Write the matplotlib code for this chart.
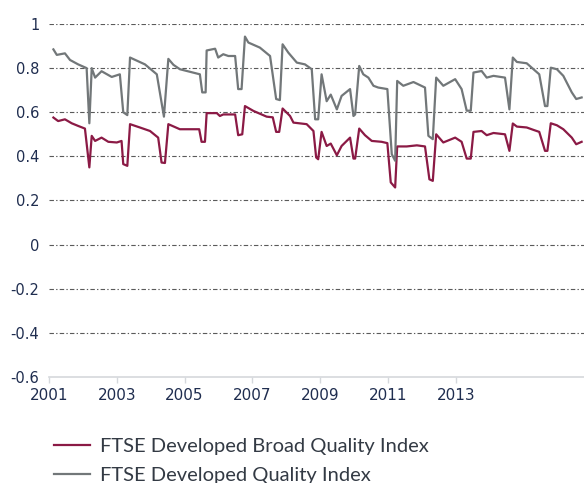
import numpy as np
import matplotlib
matplotlib.use("Agg")
import matplotlib.pyplot as plt

## Data (decimal year, value)

quality_years = [2001.13, 2001.23, 2001.47, 2001.62, 2001.86, 2002.11, 2002.19, 2002.26,
                 2002.36, 2002.55, 2002.85, 2003.09, 2003.19, 2003.31, 2003.39, 2003.83,
                 2004.18, 2004.39, 2004.52, 2004.67, 2004.86, 2005.45, 2005.52, 2005.62,
                 2005.65, 2005.90, 2005.99, 2006.14, 2006.29, 2006.49, 2006.58, 2006.68,
                 2006.78, 2006.88, 2007.22, 2007.52, 2007.70, 2007.81, 2007.89, 2008.06,
                 2008.31, 2008.55, 2008.75, 2008.85, 2008.94, 2009.04, 2009.19, 2009.31,
                 2009.49, 2009.63, 2009.88, 2009.98, 2010.03, 2010.15, 2010.27, 2010.42,
                 2010.57, 2010.71, 2010.98, 2011.11, 2011.21, 2011.27, 2011.45, 2011.75,
                 2012.09, 2012.19, 2012.32, 2012.42, 2012.63, 2012.98, 2013.17, 2013.32,
                 2013.44, 2013.52, 2013.76, 2013.91, 2014.11, 2014.45, 2014.58, 2014.68,
                 2014.80, 2015.09, 2015.29, 2015.46, 2015.63, 2015.70, 2015.80, 2015.98,
                 2016.17, 2016.42, 2016.55, 2016.71]
quality = [0.885, 0.86, 0.867, 0.837, 0.817, 0.80, 0.55, 0.80,
           0.757, 0.786, 0.76, 0.772, 0.60, 0.587, 0.848, 0.817,
           0.772, 0.58, 0.842, 0.815, 0.795, 0.772, 0.69, 0.69,
           0.88, 0.888, 0.848, 0.863, 0.855, 0.855, 0.705, 0.705,
           0.943, 0.916, 0.893, 0.855, 0.66, 0.655, 0.908, 0.87,
           0.825, 0.817, 0.795, 0.568, 0.568, 0.772, 0.65, 0.68,
           0.613, 0.674, 0.705, 0.583, 0.59, 0.81, 0.772, 0.757,
           0.72, 0.712, 0.705, 0.41, 0.38, 0.742, 0.72, 0.737,
           0.712, 0.493, 0.478, 0.757, 0.72, 0.75, 0.705, 0.607,
           0.607, 0.78, 0.787, 0.757, 0.765, 0.757, 0.613, 0.848,
           0.828, 0.822, 0.795, 0.772, 0.628, 0.628, 0.802, 0.795,
           0.765, 0.69, 0.66, 0.667]

broad_years = [2001.13, 2001.27, 2001.47, 2001.67, 2001.86, 2002.06, 2002.19, 2002.26,
               2002.36, 2002.55, 2002.75, 2003.00, 2003.14, 2003.19, 2003.31, 2003.39,
               2003.68, 2003.98, 2004.22, 2004.32, 2004.42, 2004.52, 2004.86, 2005.43,
               2005.50, 2005.60, 2005.65, 2005.95, 2006.04, 2006.14, 2006.49, 2006.58,
               2006.70, 2006.78, 2007.03, 2007.42, 2007.60, 2007.70, 2007.79, 2007.89,
               2008.11, 2008.21, 2008.60, 2008.80, 2008.88, 2008.94, 2009.04, 2009.19,
               2009.31, 2009.49, 2009.63, 2009.88, 2009.98, 2010.03, 2010.15, 2010.32,
               2010.52, 2010.81, 2010.98, 2011.08, 2011.21, 2011.27, 2011.55, 2011.85,
               2012.09, 2012.22, 2012.32, 2012.42, 2012.63, 2012.98, 2013.17, 2013.32,
               2013.44, 2013.52, 2013.76, 2013.91, 2014.11, 2014.45, 2014.58, 2014.68,
               2014.80, 2015.09, 2015.29, 2015.46, 2015.63, 2015.70, 2015.80, 2015.98,
               2016.17, 2016.42, 2016.55, 2016.71]
broad = [0.576, 0.56, 0.568, 0.55, 0.538, 0.526, 0.35, 0.493,
         0.47, 0.485, 0.466, 0.463, 0.47, 0.365, 0.357, 0.546,
         0.531, 0.515, 0.485, 0.372, 0.37, 0.546, 0.523, 0.523,
         0.466, 0.466, 0.596, 0.596, 0.583, 0.59, 0.59, 0.496,
         0.50, 0.628, 0.606, 0.58, 0.577, 0.511, 0.511, 0.617,
         0.583, 0.553, 0.546, 0.515, 0.395, 0.387, 0.511, 0.447,
         0.458, 0.405, 0.447, 0.485, 0.39, 0.39, 0.526, 0.496,
         0.47, 0.466, 0.46, 0.282, 0.259, 0.445, 0.445, 0.45,
         0.445, 0.296, 0.289, 0.50, 0.463, 0.485, 0.466, 0.39,
         0.39, 0.511, 0.515, 0.496, 0.506, 0.50, 0.425, 0.549,
         0.535, 0.531, 0.52, 0.511, 0.425, 0.425, 0.55, 0.541,
         0.523, 0.485, 0.455, 0.466]

year_ticks = [2001, 2003, 2005, 2007, 2009, 2011, 2013]
value_ticks = [-0.6, -0.4, -0.2, 0, 0.2, 0.4, 0.6, 0.8, 1]

## Plot

plt.rcParams['font.family'] = ['Lato', 'DejaVu Sans']
plt.rcParams['axes.unicode_minus'] = False
text_col = '#1f2d4f'

fig = plt.figure(figsize=(5.84, 4.83), dpi=100)
ax = fig.add_axes([0.0839, 0.2195, 0.9161, 0.7308])

ax.plot(broad_years, broad, color='#8b1a45', lw=1.6, label='FTSE Developed Broad Quality Index')
ax.plot(quality_years, quality, color='#727779', lw=1.6, label='FTSE Developed Quality Index')

ax.set_xlim(2001, 2016.78)
ax.set_ylim(-0.6, 1.0)

for v in value_ticks[1:]:
    ax.axhline(v, color='#5a5a5a', lw=0.8, ls=(0, (4, 2, 1.2, 2)), zorder=0)

for s in ['top', 'right', 'left']:
    ax.spines[s].set_visible(False)
ax.spines['bottom'].set_color('#d5d8dc')
ax.spines['bottom'].set_linewidth(1.2)

ax.set_xticks(year_ticks)
ax.set_xticklabels([str(y) for y in year_ticks], family='DejaVu Sans', fontsize=11)
ax.set_yticks(value_ticks)
ax.set_yticklabels(['%g' % v for v in value_ticks], family='DejaVu Sans', fontsize=10.5)
ax.tick_params(axis='x', colors='#d5d8dc', length=4, width=1, labelcolor=text_col, pad=4)
ax.tick_params(axis='y', length=0, labelcolor=text_col, pad=7)

fig.legend(loc='upper left', bbox_to_anchor=(0.075, 0.115), frameon=False,
           fontsize=14.5, handlelength=1.8, handletextpad=0.5, labelspacing=0.62,
           borderpad=0, labelcolor='#333a44')

fig.savefig('out.png', dpi=100)
